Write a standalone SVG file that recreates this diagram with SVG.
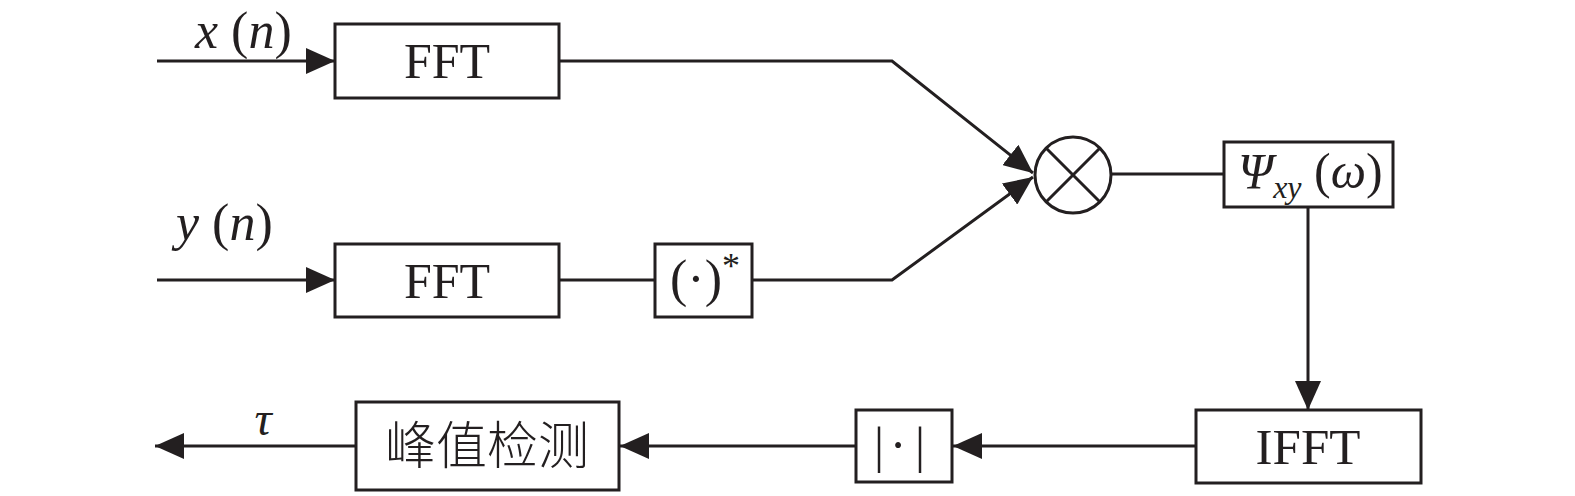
<svg xmlns="http://www.w3.org/2000/svg" width="1575" height="496" viewBox="0 0 1575 496">
<style>
.box{fill:#fff;stroke:#231f20;stroke-width:3}
.ln{fill:none;stroke:#231f20;stroke-width:3}
.t{font-family:"Liberation Serif","Times New Roman",serif;fill:#231f20}
.i{font-style:italic}
.cjk{font-family:"Noto Sans CJK SC",sans-serif;fill:#231f20;font-weight:300}
</style>
<defs>
<marker id="arr" viewBox="0 0 29 26" refX="29" refY="13" markerWidth="29" markerHeight="26" markerUnits="userSpaceOnUse" orient="auto">
<path d="M0,0 L29,13 L0,26 z" fill="#231f20"/>
</marker>
</defs>
<g id="connectors">
<line class="ln" x1="157" y1="61" x2="335" y2="61" marker-end="url(#arr)"/>
<polyline class="ln" points="559,61 892,61 1033,173" marker-end="url(#arr)"/>
<line class="ln" x1="157" y1="280" x2="335" y2="280" marker-end="url(#arr)"/>
<line class="ln" x1="559" y1="280" x2="655" y2="280"/>
<polyline class="ln" points="752,280 892,280 1033,177" marker-end="url(#arr)"/>
<line class="ln" x1="1111" y1="174" x2="1224" y2="174"/>
<line class="ln" x1="1308" y1="207" x2="1308" y2="410" marker-end="url(#arr)"/>
<line class="ln" x1="1196" y1="446" x2="953" y2="446" marker-end="url(#arr)"/>
<line class="ln" x1="856" y1="446" x2="620" y2="446" marker-end="url(#arr)"/>
<line class="ln" x1="356" y1="446" x2="155" y2="446" marker-end="url(#arr)"/>
</g>
<g id="label-xn"><text class="t" x="195" y="48" font-size="52"><tspan class="i">x</tspan> (<tspan class="i">n</tspan>)</text></g>
<g id="label-yn"><text class="t" x="176" y="240" font-size="52"><tspan class="i">y</tspan> (<tspan class="i">n</tspan>)</text></g>
<g id="label-tau"><text class="t i" x="263" y="435" font-size="48" text-anchor="middle">τ</text></g>
<g id="fft1">
<rect class="box" x="335" y="24" width="224" height="74"/>
<text class="t" x="447" y="78" font-size="50" text-anchor="middle">FFT</text>
</g>
<g id="fft2">
<rect class="box" x="335" y="244" width="224" height="73"/>
<text class="t" x="447" y="298" font-size="50" text-anchor="middle">FFT</text>
</g>
<g id="conj">
<rect class="box" x="655" y="244" width="97" height="73"/>
<text class="t" x="670" y="296" font-size="52">(·)<tspan font-size="36" dy="-18">*</tspan></text>
</g>
<g id="mult">
<circle class="box" cx="1073" cy="175" r="38"/>
<line class="ln" x1="1046" y1="148" x2="1100" y2="202"/>
<line class="ln" x1="1100" y1="148" x2="1046" y2="202"/>
</g>
<g id="psi">
<rect class="box" x="1224" y="142" width="169" height="65"/>
<text class="t" x="1238" y="188" font-size="50"><tspan class="i">Ψ</tspan><tspan class="i" font-size="32" dy="10">xy</tspan><tspan dy="-10"> (</tspan><tspan class="i">ω</tspan>)</text>
</g>
<g id="ifft">
<rect class="box" x="1196" y="410" width="225" height="73"/>
<text class="t" x="1308" y="464" font-size="51" text-anchor="middle">IFFT</text>
</g>
<g id="abs">
<rect class="box" x="856" y="410" width="96" height="72"/>
<text class="t" x="879 898 920" y="462" font-size="50" text-anchor="middle">|·|</text>
</g>
<g id="peak">
<rect class="box" x="356" y="402" width="263" height="88"/>
<text class="cjk" x="487" y="464" font-size="51" text-anchor="middle">峰值检测</text>
</g>
</svg>
